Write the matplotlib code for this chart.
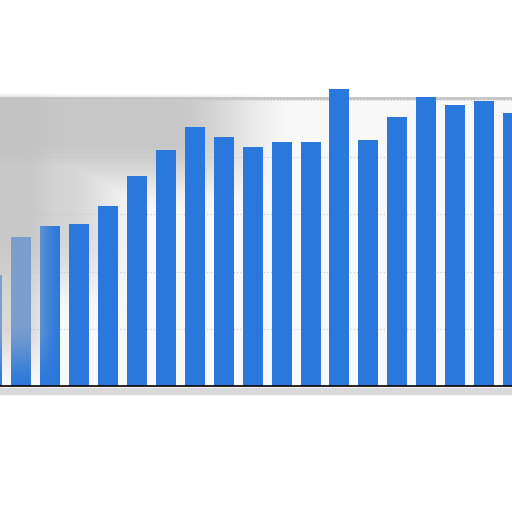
import numpy as np
import matplotlib
matplotlib.use("Agg")
import matplotlib.pyplot as plt

# bar heights (grid every 20)
positions = list(range(19))
values = [38.8, 52.0, 56.0, 56.6, 63.0, 73.4, 82.6, 90.6, 87.0, 83.6,
          85.4, 85.4, 103.8, 86.0, 94.0, 101.0, 98.2, 99.6, 95.4]
grid_ticks = [0, 20, 40, 60, 80, 100]

bar_color = "#2b78dc"


def ramp(v, a, b):
    # smooth 0..1 step between a and b
    t = np.clip((v - a) / (b - a), 0, 1)
    return t * t * (3 - 2 * t)


fig = plt.figure(figsize=(5.12, 5.12), dpi=100)
fig.patch.set_facecolor("white")

# plot area spans the full width, baseline at ~386px from top
ax = fig.add_axes([0, 126 / 512, 1, 288 / 512])
ax.set_facecolor("none")

# pale plot background, drawn under the haze
fig.add_artist(plt.Rectangle((0, 126 / 512), 1, 288 / 512, transform=fig.transFigure,
                             color="#f9f9f9", zorder=-3))
# grey shadow strip under the baseline
fig.add_artist(plt.Rectangle((0, 118 / 512), 1, 6 / 512, transform=fig.transFigure,
                             color="#d9d9d9", zorder=-3))

ax.bar(positions, values, width=0.69, color=bar_color, zorder=3, clip_on=False)

ax.set_xlim(0.273, 17.96)
ax.set_ylim(0, 100.7)
ax.set_yticks(grid_ticks)
ax.yaxis.grid(True, linestyle=(0, (1, 2)), color="#c8c8c8", linewidth=0.8, zorder=0)
ax.tick_params(left=False, bottom=False, labelleft=False, labelbottom=False)

for side in ("left", "right"):
    ax.spines[side].set_visible(False)
ax.spines["top"].set_color("#c4c4c4")
ax.spines["top"].set_linewidth(2)
ax.spines["bottom"].set_color("black")
ax.spines["bottom"].set_linewidth(1.2)
ax.spines["bottom"].set_zorder(4)

yy, xx = np.mgrid[0:512, 0:512].astype(float)

# grey haze behind the bars, upper-left part of the plot
top_band = (ramp(yy, 92, 102) * (1 - ramp(yy, 140, 215))
            * (1 - ramp(xx, 170, 300)))
mid_band = (ramp(yy, 150, 170) * (1 - ramp(yy, 230, 320))
            * (1 - ramp(xx, 60, 150)))
back = np.zeros((512, 512, 4))
back[..., :3] = 0.70
back[..., 3] = np.maximum(top_band, 0.75 * mid_band) * 0.7
fig.figimage(back, xo=0, yo=0, origin="upper", zorder=-1)

# haze lying over the leftmost bars
left_band = (ramp(yy, 92, 102) * (1 - ramp(yy, 320, 392))
             * (1 - ramp(xx, 25, 62)))
front = np.zeros((512, 512, 4))
front[..., :3] = 0.75
front[..., 3] = left_band * 0.55
fig.figimage(front, xo=0, yo=0, origin="upper", zorder=5)

fig.savefig("out.png", dpi=100)
